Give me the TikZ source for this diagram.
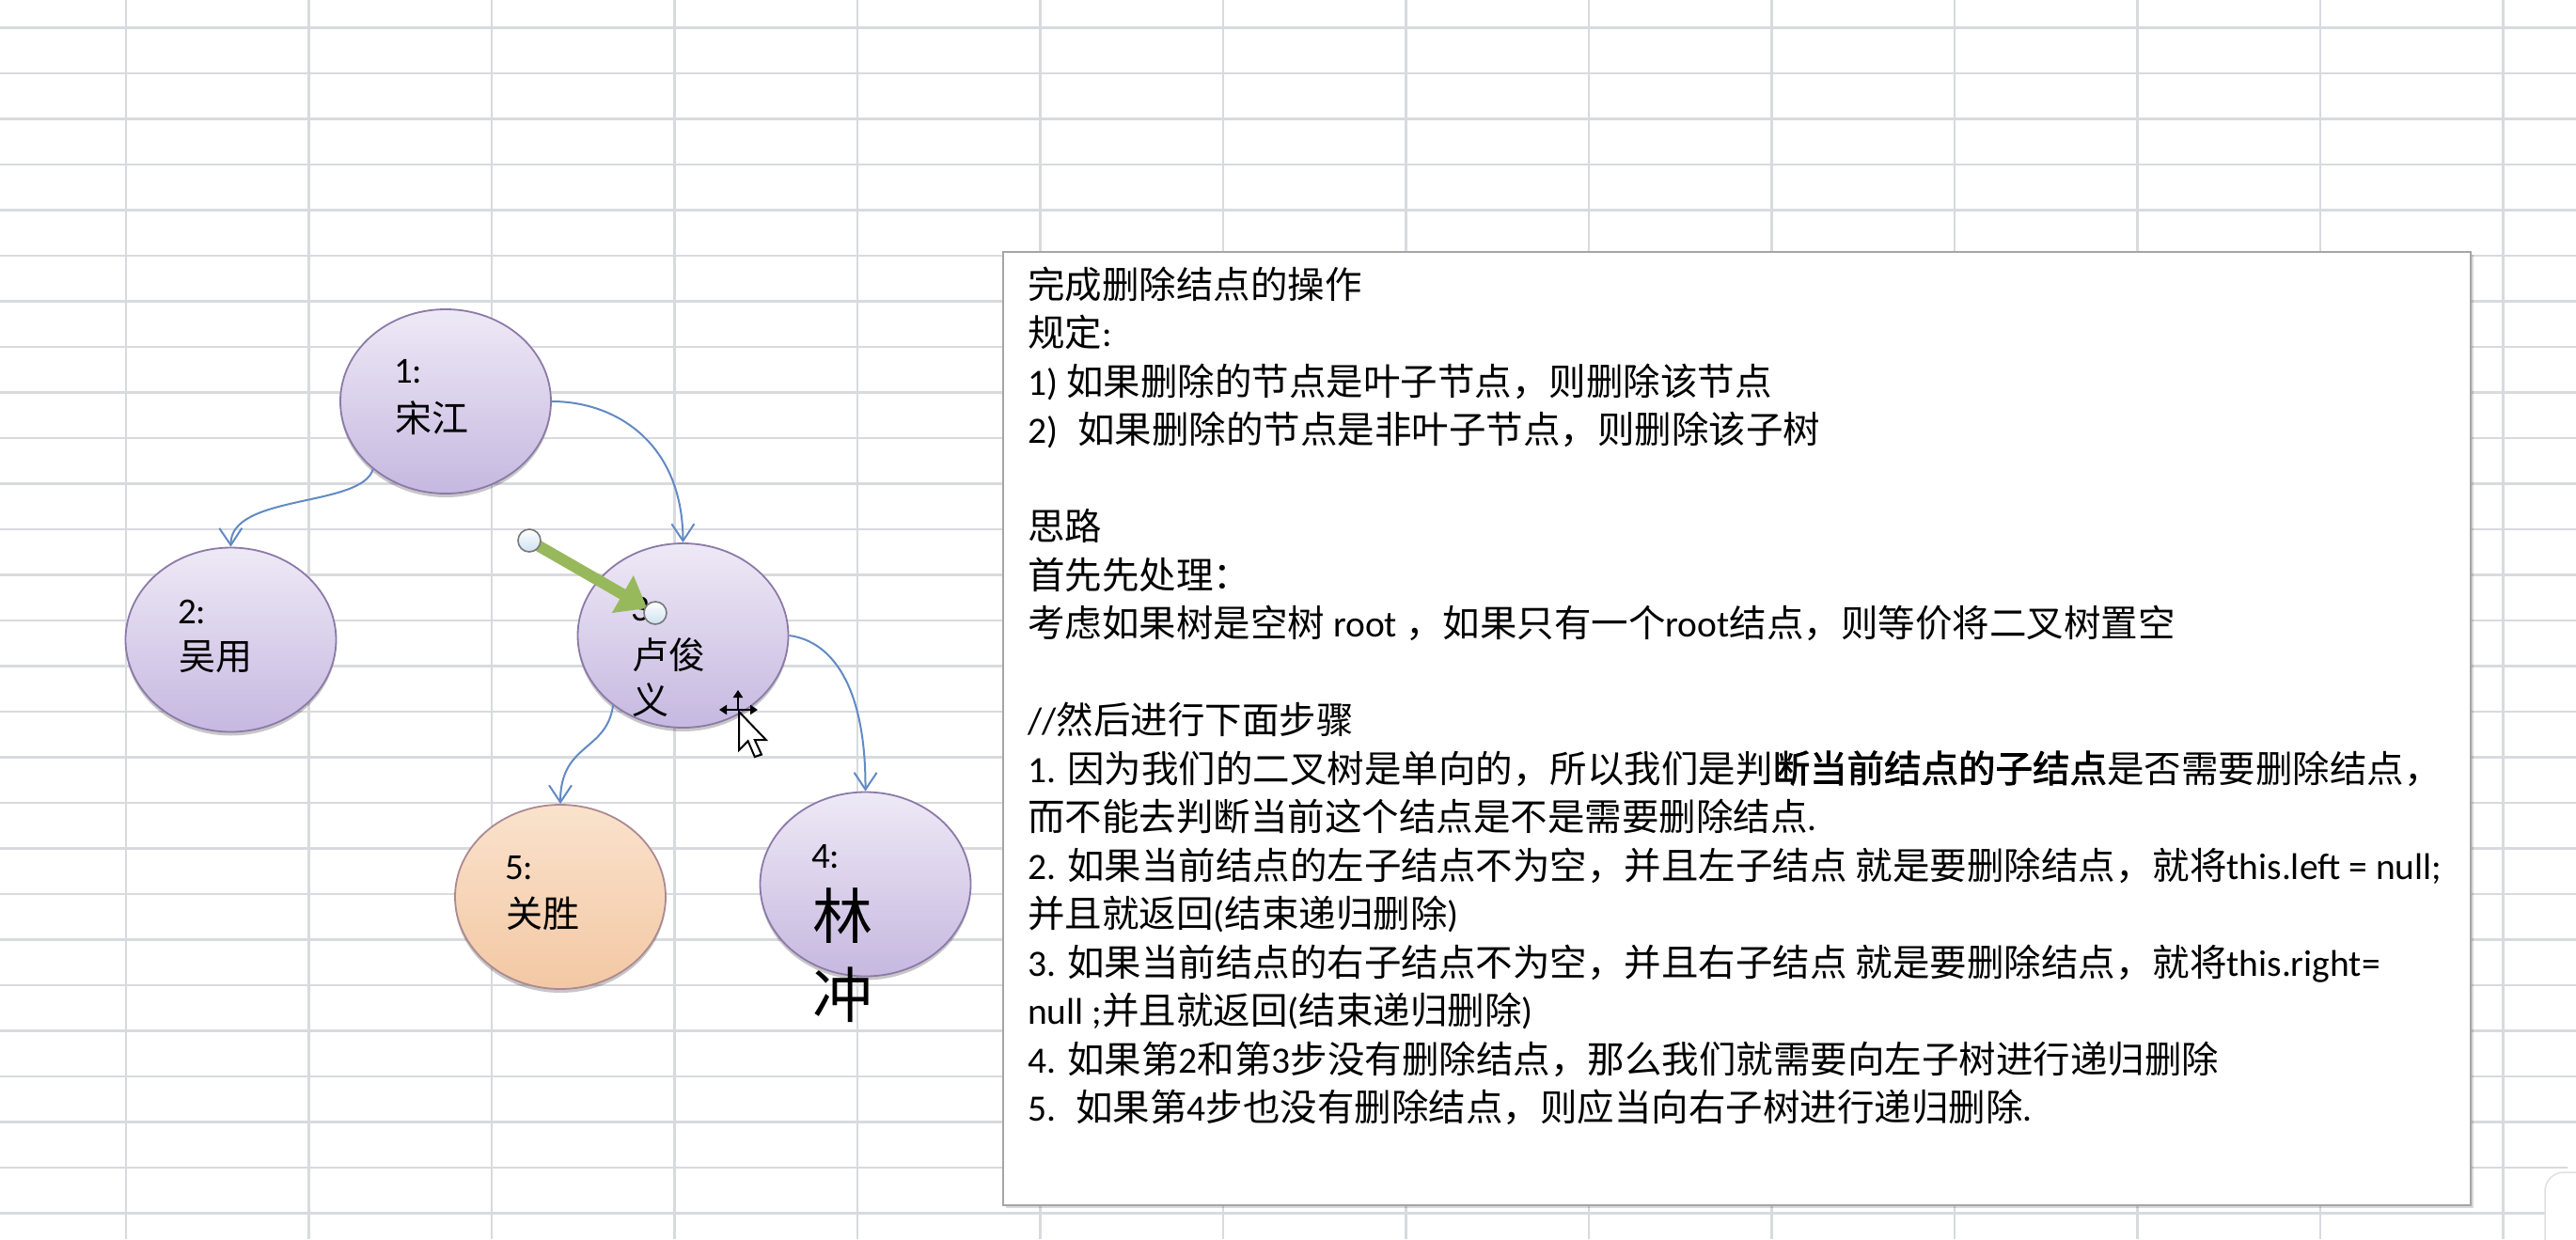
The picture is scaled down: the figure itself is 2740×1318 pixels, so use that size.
\documentclass[tikz,border=0pt]{standalone}
\usepackage{fontspec}
\setmainfont{Carlito}
\newfontfamily\latf{Carlito}
\newfontfamily\cjkf{Noto Sans CJK SC}[AutoFakeBold=2]
\usetikzlibrary{arrows.meta,shapes.geometric,shadows}
% automatic switch between Latin (Carlito) and CJK (Noto Sans CJK SC)
\XeTeXinterchartokenstate=1
\chardef\cjkcls=7
\newcount\cjkcnt
\cjkcnt="4E00
\loop \XeTeXcharclass\cjkcnt=\cjkcls \advance\cjkcnt by 1 \ifnum\cjkcnt<"A000 \repeat
\cjkcnt="3000
\loop \XeTeXcharclass\cjkcnt=\cjkcls \advance\cjkcnt by 1 \ifnum\cjkcnt<"3040 \repeat
\cjkcnt="FF00
\loop \XeTeXcharclass\cjkcnt=\cjkcls \advance\cjkcnt by 1 \ifnum\cjkcnt<"FFF0 \repeat
\XeTeXinterchartoks 0 \cjkcls = {\cjkf}
\XeTeXinterchartoks 4095 \cjkcls = {\cjkf}
\XeTeXinterchartoks \cjkcls 0 = {\latf}
\XeTeXinterchartoks \cjkcls 4095 = {\latf}

\definecolor{gridc}{RGB}{216,218,222}
\definecolor{boxline}{RGB}{165,165,165}
\definecolor{arrowblue}{RGB}{98,138,196}
\definecolor{ptop}{RGB}{238,233,246}
\definecolor{pbot}{RGB}{198,184,224}
\definecolor{pline}{RGB}{140,122,168}
\definecolor{otop}{RGB}{250,226,204}
\definecolor{obot}{RGB}{243,200,164}
\definecolor{oline}{RGB}{172,138,146}
\definecolor{garrow}{RGB}{152,184,92}
\definecolor{hfill}{RGB}{205,225,240}
\definecolor{hline}{RGB}{120,120,120}

\begin{document}
\begin{tikzpicture}[x=1pt,y=-1pt,
  gridline/.style={draw=gridc, line width=2.4pt},
  tbox/.style={draw=boxline, line width=2pt, fill=white, minimum width=1561pt,
    minimum height=1014pt, inner sep=0pt,
    drop shadow={shadow xshift=3pt, shadow yshift=-3pt, fill=black, opacity=0.15}},
  tnode/.style={ellipse, minimum width=224pt, minimum height=196pt, inner sep=0pt,
    draw=pline, line width=1.8pt, top color=ptop, bottom color=pbot,
    drop shadow={shadow xshift=0pt, shadow yshift=-4pt, fill=black, opacity=0.22}},
  onode/.style={tnode, draw=oline, top color=otop, bottom color=obot},
  lbl/.style={inner sep=0pt, anchor=base west, font=\fontsize{39}{47}\selectfont},
  biglbl/.style={inner sep=0pt, anchor=base west, font=\fontsize{64}{77}\selectfont},
  txt/.style={inner sep=0pt, anchor=base west, font=\fontsize{39.5}{47}\selectfont},
  conn/.style={draw=arrowblue, line width=2pt, -{Straight Barb[length=18pt,width=24pt]}},
  garr/.style={draw=garrow, line width=12pt, -{Triangle[length=30pt,width=44pt]}, shorten >=10pt},
  handle/.style={circle, minimum size=24pt, inner sep=0pt, draw=hline, line width=1.6pt,
    top color=white, bottom color=hfill},
  curs/.style={draw=black, line width=2.5pt, -{Triangle[length=8pt,width=10pt]}}
]
\clip (0,0) rectangle (2740,1318);
\fill[white] (0,0) rectangle (2740,1318);

% spreadsheet grid
\foreach \k in {0,...,13} \draw[gridline] ({134+194.5*\k},0) -- ({134+194.5*\k},1318);
\foreach \k in {0,...,26} \draw[gridline] (0,{29.3+48.5*\k}) -- (2740,{29.3+48.5*\k});

% tree nodes
\node[tnode] (n1) at (474,427) {};
\node[tnode] (n2) at (245.5,680.5) {};
\node[tnode] (n3) at (726.5,676) {};
\node[onode] (n5) at (596,954) {};
\node[tnode] (n4) at (920.5,940.5) {};

\node[lbl] (l1a) at (419,407) {1:};
\node[lbl] (l1b) at (420,459) {宋江};
\node[lbl] (l2a) at (189,663) {2:};
\node[lbl] (l2b) at (190,712) {吴用};
\node[lbl] (l3a) at (671,660) {3:};
\node[lbl] (l3b) at (672,711) {卢俊};
\node[lbl] (l3c) at (672,759) {义};
\node[lbl] (l5a) at (537,935) {5:};
\node[lbl] (l5b) at (538,986) {关胜};
\node[lbl] (l4a) at (863,923) {4:};
\node[biglbl] (l4b) at (864,998) {林};
\node[biglbl] (l4c) at (864,1082) {冲};

% connectors
\draw[conn] (n1.223) .. controls (385,540) and (245,525) .. (n2.north);
\draw[conn] (n1.east) .. controls (655,427) and (726,471) .. (n3.north);
\draw[conn] (n3.225) .. controls (645,800) and (596,790) .. (n5.north);
\draw[conn] (n3.east) .. controls (885,682) and (921,730) .. (n4.north);

% green selected arrow with handles
\coordinate (g1) at (563,575);
\coordinate (g2) at (697,652);
\draw[garr] (g1) -- (g2);
\node[handle] (hd1) at (g1) {};
\node[handle] (hd2) at (g2) {};

% mouse cursor
\coordinate (mc) at (785,755);
\draw[curs] (mc) -- +(-20,0);
\draw[curs] (mc) -- +(21,0);
\draw[curs] (mc) -- +(0,-21);
\draw[fill=white, draw=black, line width=2pt, line join=miter]
  (786,757) -- (786,798) -- (795.6,788.2) -- (802.8,805) -- (810,802.6)
  -- (802.8,787) -- (814.8,787) -- cycle;

% text box
\node[tbox] (box) at (1847.5,775) {};
\node[txt] (t0)  at (1093,317)    {完成删除结点的操作};
\node[txt] (t1)  at (1093,368.5)  {规定:};
\node[txt] (t2)  at (1093,420)    {1) 如果删除的节点是叶子节点，则删除该节点};
\node[txt] (t3)  at (1093,471.5)  {2)\hspace{21pt}如果删除的节点是非叶子节点，则删除该子树};
\node[txt] (t5)  at (1093,574.5)  {思路};
\node[txt] (t6)  at (1093,626)    {首先先处理：};
\node[txt] (t7)  at (1093,677.5)  {考虑如果树是空树 root ，如果只有一个root结点，则等价将二叉树置空};
\node[txt] (t9)  at (1093,780.5)  {//然后进行下面步骤};
\node[txt] (t10) at (1093,832)    {1. 因为我们的二叉树是单向的，所以我们是判\textbf{断当前结点的子结点}是否需要删除结点，};
\node[txt] (t11) at (1093,883.5)  {而不能去判断当前这个结点是不是需要删除结点.};
\node[txt] (t12) at (1093,935)    {2. 如果当前结点的左子结点不为空，并且左子结点 就是要删除结点，就将this.left = null;};
\node[txt] (t13) at (1093,986.5)  {并且就返回(结束递归删除)};
\node[txt] (t14) at (1093,1038)   {3. 如果当前结点的右子结点不为空，并且右子结点 就是要删除结点，就将this.right=};
\node[txt] (t15) at (1093,1089.5) {null ;并且就返回(结束递归删除)};
\node[txt] (t16) at (1093,1141)   {4. 如果第2和第3步没有删除结点，那么我们就需要向左子树进行递归删除};
\node[txt] (t17) at (1093,1192.5) {5.\hspace{21pt}如果第4步也没有删除结点，则应当向右子树进行递归删除.};

% white overlay element at bottom right corner
\draw[fill=white, draw=black!12, line width=1.5pt, rounded corners=20pt]
  (2707,1247) rectangle (2800,1400);
\fill[white] (2737,1240) circle (6);
\end{tikzpicture}
\end{document}
